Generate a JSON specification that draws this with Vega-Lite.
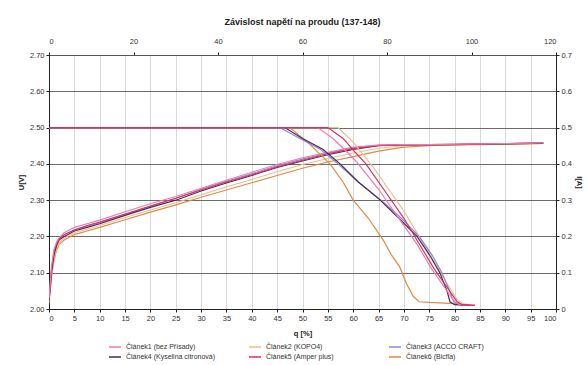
{
  "$schema": "https://vega.github.io/schema/vega-lite/v6.json",
  "width": 507,
  "height": 254,
  "autosize": {"type": "none"},
  "padding": {"left": 49, "top": 55, "right": 31, "bottom": 56},
  "background": "white",
  "title": {
    "text": "Závislost napětí na proudu (137-148)",
    "font": "Liberation Sans",
    "fontSize": 9,
    "fontWeight": "bold",
    "color": "#222222",
    "anchor": "middle",
    "offset": 10
  },
  "config": {
    "view": {"stroke": null},
    "axis": {
      "labelFont": "Liberation Sans",
      "labelFontSize": 7.5,
      "labelColor": "#333333",
      "titleFont": "Liberation Sans",
      "titleFontSize": 7.5,
      "titleFontWeight": "bold",
      "titleColor": "#222222",
      "domainColor": "#222222",
      "tickColor": "#222222",
      "tickSize": 3,
      "labelPadding": 2
    },
    "legend": {
      "orient": "none",
      "legendX": 59,
      "legendY": 285,
      "columns": 3,
      "direction": "horizontal",
      "symbolType": "stroke",
      "symbolSize": 144,
      "symbolStrokeWidth": 1.5,
      "labelFont": "Liberation Sans",
      "labelFontSize": 7,
      "labelColor": "#333333",
      "rowPadding": 0,
      "columnPadding": 30,
      "gridAlign": "all",
      "padding": 0,
      "title": null
    }
  },
  "datasets": {
    "napeti": [
      {"c": "Článek6 (Bicfla)", "q": 0, "U": 2.015}, {"c": "Článek6 (Bicfla)", "q": 0.5, "U": 2.09}, {"c": "Článek6 (Bicfla)", "q": 1, "U": 2.135}, {"c": "Článek6 (Bicfla)", "q": 1.5, "U": 2.162}, {"c": "Článek6 (Bicfla)", "q": 2, "U": 2.178}, {"c": "Článek6 (Bicfla)", "q": 3, "U": 2.19}, {"c": "Článek6 (Bicfla)", "q": 5, "U": 2.205}, {"c": "Článek6 (Bicfla)", "q": 7.5, "U": 2.215}, {"c": "Článek6 (Bicfla)", "q": 10, "U": 2.225}, {"c": "Článek6 (Bicfla)", "q": 15, "U": 2.246}, {"c": "Článek6 (Bicfla)", "q": 20, "U": 2.267}, {"c": "Článek6 (Bicfla)", "q": 25, "U": 2.287}, {"c": "Článek6 (Bicfla)", "q": 30, "U": 2.308}, {"c": "Článek6 (Bicfla)", "q": 35, "U": 2.328}, {"c": "Článek6 (Bicfla)", "q": 40, "U": 2.348}, {"c": "Článek6 (Bicfla)", "q": 45, "U": 2.368}, {"c": "Článek6 (Bicfla)", "q": 50, "U": 2.388}, {"c": "Článek6 (Bicfla)", "q": 55, "U": 2.405}, {"c": "Článek6 (Bicfla)", "q": 60, "U": 2.42}, {"c": "Článek6 (Bicfla)", "q": 65, "U": 2.435}, {"c": "Článek6 (Bicfla)", "q": 70, "U": 2.446}, {"c": "Článek6 (Bicfla)", "q": 75, "U": 2.45}, {"c": "Článek6 (Bicfla)", "q": 80, "U": 2.452}, {"c": "Článek6 (Bicfla)", "q": 85, "U": 2.453}, {"c": "Článek6 (Bicfla)", "q": 90, "U": 2.454}, {"c": "Článek6 (Bicfla)", "q": 95, "U": 2.455}, {"c": "Článek6 (Bicfla)", "q": 97.5, "U": 2.456},

      {"c": "Článek2 (KOPO4)", "q": 0, "U": 2.02}, {"c": "Článek2 (KOPO4)", "q": 0.5, "U": 2.09}, {"c": "Článek2 (KOPO4)", "q": 1, "U": 2.14}, {"c": "Článek2 (KOPO4)", "q": 1.5, "U": 2.168}, {"c": "Článek2 (KOPO4)", "q": 2, "U": 2.183}, {"c": "Článek2 (KOPO4)", "q": 3, "U": 2.195}, {"c": "Článek2 (KOPO4)", "q": 5, "U": 2.21}, {"c": "Článek2 (KOPO4)", "q": 7.5, "U": 2.22}, {"c": "Článek2 (KOPO4)", "q": 10, "U": 2.23}, {"c": "Článek2 (KOPO4)", "q": 15, "U": 2.252}, {"c": "Článek2 (KOPO4)", "q": 20, "U": 2.273}, {"c": "Článek2 (KOPO4)", "q": 25, "U": 2.293}, {"c": "Článek2 (KOPO4)", "q": 30, "U": 2.315}, {"c": "Článek2 (KOPO4)", "q": 35, "U": 2.337}, {"c": "Článek2 (KOPO4)", "q": 40, "U": 2.357}, {"c": "Článek2 (KOPO4)", "q": 45, "U": 2.378}, {"c": "Článek2 (KOPO4)", "q": 50, "U": 2.398}, {"c": "Článek2 (KOPO4)", "q": 55, "U": 2.415}, {"c": "Článek2 (KOPO4)", "q": 60, "U": 2.43}, {"c": "Článek2 (KOPO4)", "q": 65, "U": 2.443}, {"c": "Článek2 (KOPO4)", "q": 70, "U": 2.45}, {"c": "Článek2 (KOPO4)", "q": 75, "U": 2.452}, {"c": "Článek2 (KOPO4)", "q": 80, "U": 2.453}, {"c": "Článek2 (KOPO4)", "q": 85, "U": 2.454}, {"c": "Článek2 (KOPO4)", "q": 90, "U": 2.455}, {"c": "Článek2 (KOPO4)", "q": 95, "U": 2.456}, {"c": "Článek2 (KOPO4)", "q": 97.5, "U": 2.457},

      {"c": "Článek3 (ACCO CRAFT)", "q": 0, "U": 2.025}, {"c": "Článek3 (ACCO CRAFT)", "q": 0.5, "U": 2.105}, {"c": "Článek3 (ACCO CRAFT)", "q": 1, "U": 2.155}, {"c": "Článek3 (ACCO CRAFT)", "q": 1.5, "U": 2.18}, {"c": "Článek3 (ACCO CRAFT)", "q": 2, "U": 2.193}, {"c": "Článek3 (ACCO CRAFT)", "q": 3, "U": 2.205}, {"c": "Článek3 (ACCO CRAFT)", "q": 5, "U": 2.218}, {"c": "Článek3 (ACCO CRAFT)", "q": 7.5, "U": 2.228}, {"c": "Článek3 (ACCO CRAFT)", "q": 10, "U": 2.238}, {"c": "Článek3 (ACCO CRAFT)", "q": 15, "U": 2.26}, {"c": "Článek3 (ACCO CRAFT)", "q": 20, "U": 2.283}, {"c": "Článek3 (ACCO CRAFT)", "q": 25, "U": 2.305}, {"c": "Článek3 (ACCO CRAFT)", "q": 30, "U": 2.33}, {"c": "Článek3 (ACCO CRAFT)", "q": 35, "U": 2.352}, {"c": "Článek3 (ACCO CRAFT)", "q": 40, "U": 2.373}, {"c": "Článek3 (ACCO CRAFT)", "q": 45, "U": 2.395}, {"c": "Článek3 (ACCO CRAFT)", "q": 50, "U": 2.413}, {"c": "Článek3 (ACCO CRAFT)", "q": 55, "U": 2.43}, {"c": "Článek3 (ACCO CRAFT)", "q": 60, "U": 2.444}, {"c": "Článek3 (ACCO CRAFT)", "q": 65, "U": 2.451}, {"c": "Článek3 (ACCO CRAFT)", "q": 70, "U": 2.453}, {"c": "Článek3 (ACCO CRAFT)", "q": 75, "U": 2.453}, {"c": "Článek3 (ACCO CRAFT)", "q": 80, "U": 2.454}, {"c": "Článek3 (ACCO CRAFT)", "q": 85, "U": 2.455}, {"c": "Článek3 (ACCO CRAFT)", "q": 90, "U": 2.456}, {"c": "Článek3 (ACCO CRAFT)", "q": 95, "U": 2.457}, {"c": "Článek3 (ACCO CRAFT)", "q": 97.5, "U": 2.458},

      {"c": "Článek4 (Kyselina citronová)", "q": 0, "U": 2.02}, {"c": "Článek4 (Kyselina citronová)", "q": 0.5, "U": 2.1}, {"c": "Článek4 (Kyselina citronová)", "q": 1, "U": 2.15}, {"c": "Článek4 (Kyselina citronová)", "q": 1.5, "U": 2.175}, {"c": "Článek4 (Kyselina citronová)", "q": 2, "U": 2.19}, {"c": "Článek4 (Kyselina citronová)", "q": 3, "U": 2.2}, {"c": "Článek4 (Kyselina citronová)", "q": 5, "U": 2.215}, {"c": "Článek4 (Kyselina citronová)", "q": 7.5, "U": 2.225}, {"c": "Článek4 (Kyselina citronová)", "q": 10, "U": 2.235}, {"c": "Článek4 (Kyselina citronová)", "q": 15, "U": 2.258}, {"c": "Článek4 (Kyselina citronová)", "q": 20, "U": 2.28}, {"c": "Článek4 (Kyselina citronová)", "q": 25, "U": 2.3}, {"c": "Článek4 (Kyselina citronová)", "q": 30, "U": 2.325}, {"c": "Článek4 (Kyselina citronová)", "q": 35, "U": 2.347}, {"c": "Článek4 (Kyselina citronová)", "q": 40, "U": 2.368}, {"c": "Článek4 (Kyselina citronová)", "q": 45, "U": 2.39}, {"c": "Článek4 (Kyselina citronová)", "q": 50, "U": 2.408}, {"c": "Článek4 (Kyselina citronová)", "q": 55, "U": 2.425}, {"c": "Článek4 (Kyselina citronová)", "q": 60, "U": 2.44}, {"c": "Článek4 (Kyselina citronová)", "q": 65, "U": 2.45}, {"c": "Článek4 (Kyselina citronová)", "q": 70, "U": 2.452}, {"c": "Článek4 (Kyselina citronová)", "q": 75, "U": 2.452}, {"c": "Článek4 (Kyselina citronová)", "q": 80, "U": 2.453}, {"c": "Článek4 (Kyselina citronová)", "q": 85, "U": 2.454}, {"c": "Článek4 (Kyselina citronová)", "q": 90, "U": 2.455}, {"c": "Článek4 (Kyselina citronová)", "q": 95, "U": 2.456}, {"c": "Článek4 (Kyselina citronová)", "q": 97.5, "U": 2.457},

      {"c": "Článek5 (Amper plus)", "q": 0, "U": 2.025}, {"c": "Článek5 (Amper plus)", "q": 0.5, "U": 2.11}, {"c": "Článek5 (Amper plus)", "q": 1, "U": 2.16}, {"c": "Článek5 (Amper plus)", "q": 1.5, "U": 2.18}, {"c": "Článek5 (Amper plus)", "q": 2, "U": 2.193}, {"c": "Článek5 (Amper plus)", "q": 3, "U": 2.205}, {"c": "Článek5 (Amper plus)", "q": 5, "U": 2.218}, {"c": "Článek5 (Amper plus)", "q": 7.5, "U": 2.23}, {"c": "Článek5 (Amper plus)", "q": 10, "U": 2.24}, {"c": "Článek5 (Amper plus)", "q": 15, "U": 2.262}, {"c": "Článek5 (Amper plus)", "q": 20, "U": 2.284}, {"c": "Článek5 (Amper plus)", "q": 25, "U": 2.305}, {"c": "Článek5 (Amper plus)", "q": 30, "U": 2.328}, {"c": "Článek5 (Amper plus)", "q": 35, "U": 2.35}, {"c": "Článek5 (Amper plus)", "q": 40, "U": 2.37}, {"c": "Článek5 (Amper plus)", "q": 45, "U": 2.392}, {"c": "Článek5 (Amper plus)", "q": 50, "U": 2.41}, {"c": "Článek5 (Amper plus)", "q": 55, "U": 2.428}, {"c": "Článek5 (Amper plus)", "q": 60, "U": 2.442}, {"c": "Článek5 (Amper plus)", "q": 65, "U": 2.451}, {"c": "Článek5 (Amper plus)", "q": 70, "U": 2.453}, {"c": "Článek5 (Amper plus)", "q": 75, "U": 2.453}, {"c": "Článek5 (Amper plus)", "q": 80, "U": 2.454}, {"c": "Článek5 (Amper plus)", "q": 85, "U": 2.455}, {"c": "Článek5 (Amper plus)", "q": 90, "U": 2.456}, {"c": "Článek5 (Amper plus)", "q": 95, "U": 2.457}, {"c": "Článek5 (Amper plus)", "q": 97.5, "U": 2.458},

      {"c": "Článek1 (bez Přísady)", "q": 0, "U": 2.03}, {"c": "Článek1 (bez Přísady)", "q": 0.5, "U": 2.12}, {"c": "Článek1 (bez Přísady)", "q": 1, "U": 2.165}, {"c": "Článek1 (bez Přísady)", "q": 1.5, "U": 2.185}, {"c": "Článek1 (bez Přísady)", "q": 2, "U": 2.197}, {"c": "Článek1 (bez Přísady)", "q": 3, "U": 2.21}, {"c": "Článek1 (bez Přísady)", "q": 5, "U": 2.225}, {"c": "Článek1 (bez Přísady)", "q": 7.5, "U": 2.235}, {"c": "Článek1 (bez Přísady)", "q": 10, "U": 2.245}, {"c": "Článek1 (bez Přísady)", "q": 15, "U": 2.268}, {"c": "Článek1 (bez Přísady)", "q": 20, "U": 2.29}, {"c": "Článek1 (bez Přísady)", "q": 25, "U": 2.31}, {"c": "Článek1 (bez Přísady)", "q": 30, "U": 2.333}, {"c": "Článek1 (bez Přísady)", "q": 35, "U": 2.355}, {"c": "Článek1 (bez Přísady)", "q": 40, "U": 2.377}, {"c": "Článek1 (bez Přísady)", "q": 45, "U": 2.398}, {"c": "Článek1 (bez Přísady)", "q": 50, "U": 2.417}, {"c": "Článek1 (bez Přísady)", "q": 55, "U": 2.432}, {"c": "Článek1 (bez Přísady)", "q": 60, "U": 2.446}, {"c": "Článek1 (bez Přísady)", "q": 65, "U": 2.452}, {"c": "Článek1 (bez Přísady)", "q": 70, "U": 2.453}, {"c": "Článek1 (bez Přísady)", "q": 75, "U": 2.453}, {"c": "Článek1 (bez Přísady)", "q": 80, "U": 2.454}, {"c": "Článek1 (bez Přísady)", "q": 85, "U": 2.455}, {"c": "Článek1 (bez Přísady)", "q": 90, "U": 2.456}, {"c": "Článek1 (bez Přísady)", "q": 95, "U": 2.457}, {"c": "Článek1 (bez Přísady)", "q": 97.5, "U": 2.458}
    ],
    "proud": [
      {"c": "Článek6 (Bicfla)", "t": 0, "I": 0.5}, {"c": "Článek6 (Bicfla)", "t": 57, "I": 0.5}, {"c": "Článek6 (Bicfla)", "t": 61.2, "I": 0.46}, {"c": "Článek6 (Bicfla)", "t": 66.5, "I": 0.4}, {"c": "Článek6 (Bicfla)", "t": 69.6, "I": 0.35}, {"c": "Článek6 (Bicfla)", "t": 72, "I": 0.3}, {"c": "Článek6 (Bicfla)", "t": 75.6, "I": 0.25}, {"c": "Článek6 (Bicfla)", "t": 79.1, "I": 0.19}, {"c": "Článek6 (Bicfla)", "t": 81, "I": 0.15}, {"c": "Článek6 (Bicfla)", "t": 83, "I": 0.116}, {"c": "Článek6 (Bicfla)", "t": 84.6, "I": 0.07}, {"c": "Článek6 (Bicfla)", "t": 86.2, "I": 0.035}, {"c": "Článek6 (Bicfla)", "t": 87.6, "I": 0.02}, {"c": "Článek6 (Bicfla)", "t": 90, "I": 0.018}, {"c": "Článek6 (Bicfla)", "t": 96, "I": 0.015}, {"c": "Článek6 (Bicfla)", "t": 99.6, "I": 0.012},

      {"c": "Článek2 (KOPO4)", "t": 0, "I": 0.5}, {"c": "Článek2 (KOPO4)", "t": 68.4, "I": 0.5}, {"c": "Článek2 (KOPO4)", "t": 72, "I": 0.46}, {"c": "Článek2 (KOPO4)", "t": 76.8, "I": 0.39}, {"c": "Článek2 (KOPO4)", "t": 80.4, "I": 0.33}, {"c": "Článek2 (KOPO4)", "t": 84, "I": 0.27}, {"c": "Článek2 (KOPO4)", "t": 87.6, "I": 0.2}, {"c": "Článek2 (KOPO4)", "t": 91.2, "I": 0.13}, {"c": "Článek2 (KOPO4)", "t": 94.2, "I": 0.07}, {"c": "Článek2 (KOPO4)", "t": 96.6, "I": 0.025}, {"c": "Článek2 (KOPO4)", "t": 98.4, "I": 0.012}, {"c": "Článek2 (KOPO4)", "t": 100.8, "I": 0.01},

      {"c": "Článek3 (ACCO CRAFT)", "t": 0, "I": 0.5}, {"c": "Článek3 (ACCO CRAFT)", "t": 54.6, "I": 0.5}, {"c": "Článek3 (ACCO CRAFT)", "t": 59.4, "I": 0.47}, {"c": "Článek3 (ACCO CRAFT)", "t": 64.2, "I": 0.44}, {"c": "Článek3 (ACCO CRAFT)", "t": 68.4, "I": 0.4}, {"c": "Článek3 (ACCO CRAFT)", "t": 73.2, "I": 0.35}, {"c": "Článek3 (ACCO CRAFT)", "t": 78.6, "I": 0.3}, {"c": "Článek3 (ACCO CRAFT)", "t": 83.4, "I": 0.25}, {"c": "Článek3 (ACCO CRAFT)", "t": 87.6, "I": 0.2}, {"c": "Článek3 (ACCO CRAFT)", "t": 90.6, "I": 0.15}, {"c": "Článek3 (ACCO CRAFT)", "t": 93, "I": 0.1}, {"c": "Článek3 (ACCO CRAFT)", "t": 94.8, "I": 0.05}, {"c": "Článek3 (ACCO CRAFT)", "t": 95.8, "I": 0.02}, {"c": "Článek3 (ACCO CRAFT)", "t": 97.2, "I": 0.012}, {"c": "Článek3 (ACCO CRAFT)", "t": 99.6, "I": 0.01},

      {"c": "Článek4 (Kyselina citronová)", "t": 0, "I": 0.5}, {"c": "Článek4 (Kyselina citronová)", "t": 55.8, "I": 0.5}, {"c": "Článek4 (Kyselina citronová)", "t": 60, "I": 0.47}, {"c": "Článek4 (Kyselina citronová)", "t": 64.8, "I": 0.44}, {"c": "Článek4 (Kyselina citronová)", "t": 68.9, "I": 0.4}, {"c": "Článek4 (Kyselina citronová)", "t": 73.2, "I": 0.35}, {"c": "Článek4 (Kyselina citronová)", "t": 78.4, "I": 0.3}, {"c": "Článek4 (Kyselina citronová)", "t": 82.8, "I": 0.25}, {"c": "Článek4 (Kyselina citronová)", "t": 87.1, "I": 0.2}, {"c": "Článek4 (Kyselina citronová)", "t": 90, "I": 0.15}, {"c": "Článek4 (Kyselina citronová)", "t": 92.5, "I": 0.1}, {"c": "Článek4 (Kyselina citronová)", "t": 94.2, "I": 0.05}, {"c": "Článek4 (Kyselina citronová)", "t": 94.9, "I": 0.02}, {"c": "Článek4 (Kyselina citronová)", "t": 96, "I": 0.012}, {"c": "Článek4 (Kyselina citronová)", "t": 99.6, "I": 0.01},

      {"c": "Článek1 (bez Přísady)", "t": 0, "I": 0.5}, {"c": "Článek1 (bez Přísady)", "t": 63.6, "I": 0.5}, {"c": "Článek1 (bez Přísady)", "t": 67.2, "I": 0.47}, {"c": "Článek1 (bez Přísady)", "t": 70.8, "I": 0.43}, {"c": "Článek1 (bez Přísady)", "t": 73.2, "I": 0.4}, {"c": "Článek1 (bez Přísady)", "t": 78, "I": 0.33}, {"c": "Článek1 (bez Přísady)", "t": 82.8, "I": 0.25}, {"c": "Článek1 (bez Přísady)", "t": 87, "I": 0.18}, {"c": "Článek1 (bez Přísady)", "t": 90.6, "I": 0.11}, {"c": "Článek1 (bez Přísady)", "t": 93.6, "I": 0.06}, {"c": "Článek1 (bez Přísady)", "t": 96, "I": 0.02}, {"c": "Článek1 (bez Přísady)", "t": 97.2, "I": 0.012}, {"c": "Článek1 (bez Přísady)", "t": 100.8, "I": 0.01},

      {"c": "Článek5 (Amper plus)", "t": 0, "I": 0.5}, {"c": "Článek5 (Amper plus)", "t": 66, "I": 0.5}, {"c": "Článek5 (Amper plus)", "t": 69.6, "I": 0.47}, {"c": "Článek5 (Amper plus)", "t": 72.6, "I": 0.43}, {"c": "Článek5 (Amper plus)", "t": 75, "I": 0.4}, {"c": "Článek5 (Amper plus)", "t": 79.2, "I": 0.33}, {"c": "Článek5 (Amper plus)", "t": 84, "I": 0.25}, {"c": "Článek5 (Amper plus)", "t": 87.6, "I": 0.18}, {"c": "Článek5 (Amper plus)", "t": 91.2, "I": 0.11}, {"c": "Článek5 (Amper plus)", "t": 94.2, "I": 0.06}, {"c": "Článek5 (Amper plus)", "t": 96.6, "I": 0.02}, {"c": "Článek5 (Amper plus)", "t": 97.8, "I": 0.012}, {"c": "Článek5 (Amper plus)", "t": 100.8, "I": 0.01}
    ]
  },
  "layer": [
    {
      "data": {"name": "napeti"},
      "mark": {"type": "line", "strokeWidth": 1.1, "clip": true},
      "encoding": {
        "x": {
          "field": "q",
          "type": "quantitative",
          "scale": {"domain": [0, 100], "nice": false, "zero": false},
          "axis": {
            "orient": "bottom",
            "values": [0, 5, 10, 15, 20, 25, 30, 35, 40, 45, 50, 55, 60, 65, 70, 75, 80, 85, 90, 95, 100],
            "grid": true,
            "gridColor": "#d9d9d9",
            "gridWidth": 1,
            "title": "q [%]",
            "titlePadding": 8
          }
        },
        "y": {
          "field": "U",
          "type": "quantitative",
          "scale": {"domain": [2.0, 2.7], "nice": false, "zero": false},
          "axis": {
            "orient": "left",
            "values": [2.0, 2.1, 2.2, 2.3, 2.4, 2.5, 2.6, 2.7],
            "format": ".2f",
            "grid": true,
            "gridColor": "#6b6b6b",
            "gridWidth": 1,
            "title": "U[V]",
            "titlePadding": 4
          }
        },
        "color": {
          "field": "c",
          "type": "nominal",
          "sort": null,
          "scale": {
            "domain": ["Článek1 (bez Přísady)", "Článek2 (KOPO4)", "Článek3 (ACCO CRAFT)", "Článek4 (Kyselina citronová)", "Článek5 (Amper plus)", "Článek6 (Bicfla)"],
            "range": ["#f07aae", "#e6c08e", "#8a86e0", "#4a2c4e", "#d8305e", "#e08a44"]
          }
        }
      }
    },
    {
      "data": {"name": "proud"},
      "mark": {"type": "line", "strokeWidth": 1.2, "clip": true},
      "encoding": {
        "x": {
          "field": "t",
          "type": "quantitative",
          "scale": {"domain": [0, 120], "nice": false, "zero": false},
          "axis": {
            "orient": "top",
            "values": [0, 20, 40, 60, 80, 100, 120],
            "grid": false,
            "title": null,
            "labelPadding": 7,
            "domainColor": "#555555"
          }
        },
        "y": {
          "field": "I",
          "type": "quantitative",
          "scale": {"domain": [0, 0.7], "nice": false, "zero": false},
          "axis": {
            "orient": "right",
            "values": [0, 0.1, 0.2, 0.3, 0.4, 0.5, 0.6, 0.7],
            "format": "~g",
            "grid": false,
            "title": "I[A]",
            "titlePadding": 3
          }
        },
        "color": {
          "field": "c",
          "type": "nominal",
          "sort": null,
          "scale": {
            "domain": ["Článek1 (bez Přísady)", "Článek2 (KOPO4)", "Článek3 (ACCO CRAFT)", "Článek4 (Kyselina citronová)", "Článek5 (Amper plus)", "Článek6 (Bicfla)"],
            "range": ["#f07aae", "#e6c08e", "#8a86e0", "#4a2c4e", "#d8305e", "#e08a44"]
          }
        }
      }
    }
  ],
  "resolve": {"scale": {"x": "independent", "y": "independent"}}
}
